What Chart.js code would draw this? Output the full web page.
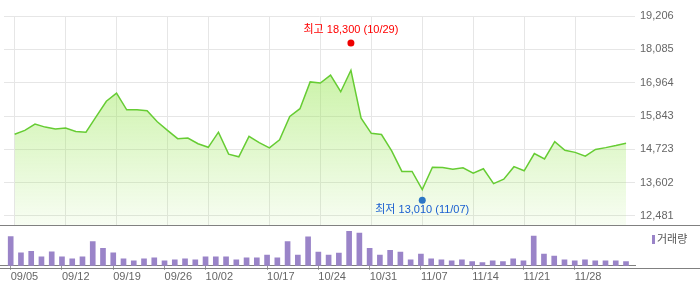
<!DOCTYPE html>
<html>
<head>
<meta charset="utf-8">
<script src="https://cdn.jsdelivr.net/npm/chart.js@4/dist/chart.umd.min.js"></script>
<style>
  html, body { margin: 0; padding: 0; background: #fff; }
  #wrap { position: relative; width: 700px; height: 289px; overflow: hidden; }
  #priceChart { position: absolute; left: 0; top: 0; }
  #volChart { position: absolute; left: 0; top: 226px; }
  .rule { position: absolute; left: 0; width: 700px; height: 1px; background: #808080; }
  #volLegend { position: absolute; left: 652px; top: 230px; font: 11px 'Noto Sans CJK KR', sans-serif; color: #555; white-space: nowrap; }
  #volLegend i { display: inline-block; width: 3px; height: 9px; background: #9a84c8; margin-right: 2px; vertical-align: -1px; }
</style>
</head>
<body>
<div id="wrap">
  <canvas id="priceChart" width="700" height="237"></canvas>
  <canvas id="volChart" width="700" height="63"></canvas>
  <div class="rule" style="top:225px"></div>
  <div class="rule" style="top:268px"></div>
  <div id="volLegend"><i></i>거래량</div>
</div>
<script>
// trading days, 2025-09-05 .. 2025-12-05
const dates = [
  '09/05', '09/08', '09/09', '09/10', '09/11', '09/12', '09/15', '09/16', '09/17', '09/18',
  '09/19', '09/22', '09/23', '09/24', '09/25', '09/26', '09/29', '09/30', '10/01', '10/02',
  '10/10', '10/13', '10/14', '10/15', '10/16', '10/17', '10/20', '10/21', '10/22', '10/23',
  '10/24', '10/27', '10/28', '10/29', '10/30', '10/31', '11/03', '11/04', '11/05', '11/06',
  '11/07', '11/10', '11/11', '11/12', '11/13', '11/14', '11/17', '11/18', '11/19', '11/20',
  '11/21', '11/24', '11/25', '11/26', '11/27', '11/28', '12/01', '12/02', '12/03', '12/04',
  '12/05'
];

const closes = [
  15230, 15360, 15570, 15470, 15410, 15440, 15320, 15300, 15820, 16340,
  16610, 16050, 16050, 16020, 15650, 15360, 15080, 15100, 14910, 14790,
  15300, 14560, 14470, 15160, 14950, 14770, 15040, 15830, 16090, 16990,
  16950, 17220, 16660, 17380, 15770, 15260, 15220, 14670, 13980, 13980,
  13370, 14120, 14110, 14050, 14100, 13920, 14070, 13570, 13720, 14140,
  14000, 14580, 14400, 14980, 14690, 14620, 14490, 14720, 14780, 14850,
  14930
];

const volumes = [
  184000, 82000, 92000, 56000, 88000, 56000, 44000, 56000, 152000, 110000,
  82000, 44000, 32000, 44000, 50000, 32000, 38000, 44000, 38000, 56000,
  56000, 56000, 38000, 50000, 50000, 68000, 50000, 152000, 68000, 182000,
  86000, 68000, 80000, 218000, 206000, 110000, 68000, 98000, 86000, 38000,
  74000, 44000, 38000, 32000, 38000, 26000, 20000, 32000, 26000, 44000,
  32000, 188000, 74000, 62000, 38000, 32000, 38000, 32000, 32000, 32000,
  26000
];

const tickDates = ['09/05', '09/12', '09/19', '09/26', '10/02', '10/17', '10/24', '10/31', '11/07', '11/14', '11/21', '11/28'];
const priceTicks = [12481, 13602, 14723, 15843, 16964, 18085, 19206];

const highDate = '10/29', highPrice = 18300;
const lowDate = '11/07', lowPrice = 13010;

const tickIdx = tickDates.map(d => dates.indexOf(d));
const xMin = -1.043, xMax = 60.877;
const fmt = v => v.toLocaleString('en-US');
const FONT = "'Liberation Sans', 'Noto Sans CJK KR', sans-serif";

const markerLabels = {
  id: 'markerLabels',
  afterDatasetsDraw(chart) {
    const c = chart.ctx;
    const items = [
      [1, `최고 ${fmt(highPrice)} (${highDate})`, '#ff0000', -13],
      [2, `최저 ${fmt(lowPrice)} (${lowDate})`, '#1a5fd0', 10]
    ];
    c.save();
    c.font = '11px ' + FONT;
    c.textAlign = 'center';
    c.textBaseline = 'middle';
    items.forEach(([ds, text, color, dy]) => {
      const pt = chart.getDatasetMeta(ds).data[0];
      c.fillStyle = color;
      c.fillText(text, pt.x, pt.y + dy);
    });
    c.restore();
  }
};

new Chart(document.getElementById('priceChart'), {
  type: 'line',
  data: {
    datasets: [
      {
        data: closes.map((v, i) => ({ x: i, y: v })),
        borderColor: '#66cc33',
        borderWidth: 1.5,
        pointRadius: 0,
        tension: 0,
        fill: 'start',
        backgroundColor: (ctx) => {
          const area = ctx.chart.chartArea;
          if (!area) return 'rgba(150,230,80,0.3)';
          const g = ctx.chart.ctx.createLinearGradient(0, area.top, 0, area.bottom);
          g.addColorStop(0, 'rgba(150,230,80,0.65)');
          g.addColorStop(1, 'rgba(150,230,80,0.07)');
          return g;
        }
      },
      {
        data: [{ x: dates.indexOf(highDate), y: highPrice }],
        showLine: false,
        pointRadius: 3.5,
        pointBackgroundColor: '#ee0000',
        pointBorderWidth: 0
      },
      {
        data: [{ x: dates.indexOf(lowDate), y: lowPrice }],
        showLine: false,
        pointRadius: 3.5,
        pointBackgroundColor: '#1a64d8',
        pointBorderWidth: 0
      }
    ]
  },
  options: {
    responsive: false,
    animation: false,
    layout: { padding: { top: 16, left: 0, right: 0, bottom: 12 } },
    plugins: { legend: { display: false }, tooltip: { enabled: false } },
    scales: {
      x: {
        type: 'linear',
        min: xMin,
        max: xMax,
        afterBuildTicks: s => { s.ticks = tickIdx.map(v => ({ value: v })); },
        ticks: { display: false },
        grid: { color: '#e6e6e6', drawTicks: false },
        border: { display: false }
      },
      y: {
        position: 'right',
        min: 12178,
        max: 19206,
        afterBuildTicks: s => { s.ticks = priceTicks.map(v => ({ value: v })); },
        afterFit: s => { s.width = 65; },
        ticks: { padding: 5, color: '#666', font: { size: 11, family: FONT }, callback: v => fmt(v) },
        grid: { color: '#e6e6e6', drawTicks: false },
        border: { display: false }
      }
    }
  },
  plugins: [markerLabels]
});

new Chart(document.getElementById('volChart'), {
  type: 'bar',
  data: {
    datasets: [{
      label: '거래량',
      data: volumes.map((v, i) => ({ x: i, y: v })),
      backgroundColor: '#9a84c8',
      barThickness: 5
    }]
  },
  options: {
    responsive: false,
    animation: false,
    layout: { padding: { top: 0, left: 0, right: 65, bottom: 4 } },
    plugins: { legend: { display: false }, tooltip: { enabled: false } },
    scales: {
      x: {
        type: 'linear',
        min: xMin,
        max: xMax,
        offset: false,
        afterBuildTicks: s => { s.ticks = tickIdx.map(v => ({ value: v })); },
        ticks: {
          align: 'start',
          padding: 1,
          maxRotation: 0,
          autoSkip: false,
          color: '#666',
          font: { size: 11, family: FONT },
          callback: v => dates[v]
        },
        grid: { offset: false, drawOnChartArea: false, tickLength: 4, color: '#999' },
        border: { color: '#808080' }
      },
      y: { display: false, min: 0, max: 251000 }
    }
  }
});
</script>
</body>
</html>
